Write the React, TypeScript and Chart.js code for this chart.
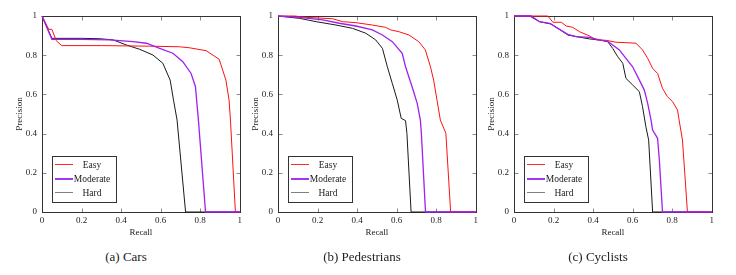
import React, { useEffect, useRef } from 'react';
import { Chart, registerables } from 'chart.js';

Chart.register(...registerables);

const xTickValues = [0, 0.2, 0.4, 0.6, 0.8, 1];
const yTickValues = [0, 0.2, 0.4, 0.6, 0.8, 1];
const seriesNames = ['Easy', 'Moderate', 'Hard'];
const captions = ['(a) Cars', '(b) Pedestrians', '(c) Cyclists'];

// Cars
const carsEasyRecall = [0, 0.034, 0.05, 0.072, 0.1, 0.3, 0.544, 0.695, 0.745, 0.83, 0.896, 0.93, 0.946, 0.953, 0.978, 1];
const carsEasyPrecision = [1, 0.932, 0.932, 0.874, 0.849, 0.849, 0.846, 0.843, 0.838, 0.823, 0.779, 0.673, 0.571, 0.469, 0, 0];
const carsModRecall = [0, 0.05, 0.2, 0.343, 0.46, 0.528, 0.595, 0.662, 0.712, 0.754, 0.776, 0.782, 0.791, 0.827, 1];
const carsModPrecision = [1, 0.881, 0.881, 0.878, 0.869, 0.861, 0.835, 0.81, 0.767, 0.707, 0.639, 0.571, 0.469, 0, 0];
const carsHardRecall = [0, 0.05, 0.2, 0.293, 0.36, 0.427, 0.494, 0.561, 0.611, 0.648, 0.665, 0.683, 0.726, 1];
const carsHardPrecision = [1, 0.886, 0.886, 0.884, 0.878, 0.852, 0.83, 0.801, 0.759, 0.673, 0.571, 0.469, 0, 0];

// Pedestrians
const pedEasyRecall = [0, 0.084, 0.142, 0.276, 0.327, 0.394, 0.477, 0.544, 0.57, 0.611, 0.662, 0.712, 0.745, 0.771, 0.787, 0.804, 0.821, 0.849, 0.873, 1];
const pedEasyPrecision = [1, 1, 0.993, 0.986, 0.971, 0.966, 0.954, 0.942, 0.929, 0.92, 0.903, 0.869, 0.827, 0.741, 0.673, 0.571, 0.469, 0.401, 0, 0];
const pedModRecall = [0, 0.109, 0.226, 0.31, 0.394, 0.477, 0.528, 0.578, 0.628, 0.645, 0.678, 0.704, 0.72, 0.725, 0.746, 1];
const pedModPrecision = [1, 0.993, 0.98, 0.963, 0.949, 0.929, 0.903, 0.869, 0.81, 0.741, 0.639, 0.554, 0.469, 0.401, 0, 0];
const pedHardRecall = [0, 0.109, 0.193, 0.293, 0.377, 0.444, 0.494, 0.528, 0.553, 0.578, 0.603, 0.623, 0.645, 0.652, 0.673, 1];
const pedHardPrecision = [1, 0.988, 0.971, 0.954, 0.937, 0.912, 0.878, 0.835, 0.741, 0.656, 0.571, 0.478, 0.466, 0.4, 0, 0];

// Cyclists
const cycEasyRecall = [0, 0.171, 0.197, 0.239, 0.264, 0.297, 0.331, 0.382, 0.415, 0.466, 0.516, 0.566, 0.617, 0.65, 0.676, 0.701, 0.726, 0.751, 0.776, 0.802, 0.827, 0.835, 0.852, 0.877, 1];
const cycEasyPrecision = [1, 1, 0.968, 0.968, 0.949, 0.942, 0.92, 0.898, 0.878, 0.876, 0.866, 0.864, 0.861, 0.827, 0.784, 0.733, 0.707, 0.631, 0.588, 0.563, 0.52, 0.469, 0.367, 0, 0];
const cycModRecall = [0, 0.087, 0.129, 0.18, 0.23, 0.272, 0.314, 0.382, 0.432, 0.474, 0.499, 0.533, 0.566, 0.6, 0.634, 0.659, 0.676, 0.693, 0.701, 0.726, 0.735, 0.751, 1];
const cycModPrecision = [1, 1, 0.971, 0.963, 0.932, 0.906, 0.895, 0.891, 0.878, 0.871, 0.852, 0.827, 0.784, 0.741, 0.673, 0.622, 0.554, 0.469, 0.418, 0.376, 0.265, 0, 0];
const cycHardRecall = [0, 0.079, 0.129, 0.188, 0.23, 0.272, 0.314, 0.382, 0.432, 0.474, 0.499, 0.524, 0.55, 0.566, 0.6, 0.634, 0.65, 0.667, 0.681, 0.701, 1];
const cycHardPrecision = [1, 1, 0.971, 0.959, 0.932, 0.903, 0.895, 0.883, 0.878, 0.869, 0.835, 0.793, 0.759, 0.682, 0.648, 0.614, 0.537, 0.435, 0.367, 0, 0];

const SERIF = '"Liberation Serif", "Times New Roman", serif';
const lineColors = ['#ff1010', '#a020f0', '#1a1a1a'];
const lineWidths = [1, 1.3, 1];
const legendColors = ['#ff2a2a', '#a335f5', '#808080'];
const legendWidths = [1, 2, 1];
const drawOrder = [1, 0, 2];

const pts = (r: number[], p: number[]) => r.map((x, i) => ({ x, y: p[i] }));

const framePlugin = {
  id: 'frameTicks',
  beforeDatasetsDraw(chart: any) {
    const { ctx, chartArea: a, scales } = chart;
    const L = Math.round(a.left) + 0.5, R = Math.round(a.right) + 0.5;
    const T = Math.round(a.top) + 0.5, B = Math.round(a.bottom) + 0.5;
    ctx.save();
    ctx.strokeStyle = '#8a8a8a';
    ctx.lineWidth = 1;
    ctx.beginPath();
    xTickValues.forEach((v) => {
      if (v === 0 || v === 1) return;
      const x = Math.round(scales.x.getPixelForValue(v)) + 0.5;
      ctx.moveTo(x, B); ctx.lineTo(x, B - 4);
      ctx.moveTo(x, T); ctx.lineTo(x, T + 4);
    });
    yTickValues.forEach((v) => {
      if (v === 0 || v === 1) return;
      const y = Math.round(scales.y.getPixelForValue(v)) + 0.5;
      ctx.moveTo(L, y); ctx.lineTo(L + 4, y);
      ctx.moveTo(R, y); ctx.lineTo(R - 4, y);
    });
    ctx.stroke();
    ctx.strokeStyle = '#333333';
    ctx.strokeRect(L, T, R - L, B - T);
    ctx.restore();
  },
};

const legendPlugin = {
  id: 'innerLegend',
  afterDatasetsDraw(chart: any) {
    const { ctx, chartArea: a } = chart;
    const L = Math.round(a.left);
    const B = Math.round(a.bottom);
    const bx = L + 10, by = B - 56, bw = 64, bh = 46;
    ctx.save();
    ctx.fillStyle = '#ffffff';
    ctx.fillRect(bx, by, bw, bh);
    ctx.strokeStyle = '#333333';
    ctx.lineWidth = 1;
    ctx.strokeRect(bx + 0.5, by + 0.5, bw, bh);
    ctx.font = `9.5px ${SERIF}`;
    ctx.textAlign = 'center';
    ctx.textBaseline = 'middle';
    chart.data.datasets.forEach((ds: any, i: number) => {
      const y = by + 8 + i * 14;
      ctx.fillStyle = legendColors[i];
      ctx.fillRect(bx + 3, y, 18, legendWidths[i]);
      ctx.fillStyle = '#222222';
      ctx.fillText(ds.label, bx + 40, y + 1);
    });
    ctx.restore();
  },
};

const fmt = (v: number) => (v === 0 ? '0' : v === 1 ? '1' : v.toFixed(1));

function Panel({ left, caption, series }: { left: number; caption: string; series: { r: number[]; p: number[] }[] }) {
  const ref = useRef<HTMLCanvasElement | null>(null);
  useEffect(() => {
    if (!ref.current) return;
    const chart = new Chart(ref.current, {
      type: 'line',
      data: {
        datasets: series.map((s, i) => ({
          label: seriesNames[i],
          data: pts(s.r, s.p),
          borderColor: lineColors[i],
          borderWidth: lineWidths[i],
          pointRadius: 0,
          tension: 0,
          fill: false,
          clip: false as any,
          order: drawOrder[i],
        })),
      },
      options: {
        animation: false,
        responsive: false,
        events: [],
        layout: { padding: { top: 16, right: 5, bottom: 0, left: 0 } },
        plugins: { legend: { display: false }, tooltip: { enabled: false } },
        scales: {
          x: {
            type: 'linear',
            min: 0,
            max: 1,
            afterBuildTicks: (axis: any) => { axis.ticks = xTickValues.map((value) => ({ value })); },
            afterFit: (scale: any) => { scale.height = 28; },
            grid: { display: false, drawTicks: false },
            border: { display: false },
            ticks: { padding: 3, color: '#222', font: { family: SERIF, size: 9 }, callback: (v: any) => fmt(Number(v)), maxRotation: 0, autoSkip: false },
            title: { display: true, text: 'Recall', color: '#222', font: { family: SERIF, size: 9 }, padding: { top: 0, bottom: 2 } },
          },
          y: {
            type: 'linear',
            min: 0,
            max: 1,
            afterBuildTicks: (axis: any) => { axis.ticks = yTickValues.map((value) => ({ value })); },
            afterFit: (scale: any) => { scale.width = 42; },
            grid: { display: false, drawTicks: false },
            border: { display: false },
            ticks: { padding: 5, color: '#222', font: { family: SERIF, size: 9 }, callback: (v: any) => fmt(Number(v)), autoSkip: false },
            title: { display: true, text: 'Precision', color: '#222', font: { family: SERIF, size: 9 }, padding: { top: 14, bottom: 0 } },
          },
        },
      } as any,
      plugins: [framePlugin, legendPlugin],
    });
    return () => chart.destroy();
  }, []);
  return (
    <div style={{ position: 'absolute', left, top: 0, width: 250, height: 275 }}>
      <canvas ref={ref} width={245} height={240} style={{ display: 'block', width: 245, height: 240 }} />
      <div style={{ position: 'absolute', left: 0, top: 249, width: 252, textAlign: 'center', fontFamily: SERIF, fontSize: 13, lineHeight: '16px', color: '#222' }}>{caption}</div>
    </div>
  );
}

export default function App() {
  return (
    <div style={{ position: 'fixed', left: 0, top: 0, width: 736, height: 275, background: '#fff', overflow: 'hidden' }}>
      <Panel left={0} caption={captions[0]} series={[{ r: carsEasyRecall, p: carsEasyPrecision }, { r: carsModRecall, p: carsModPrecision }, { r: carsHardRecall, p: carsHardPrecision }]} />
      <Panel left={236} caption={captions[1]} series={[{ r: pedEasyRecall, p: pedEasyPrecision }, { r: pedModRecall, p: pedModPrecision }, { r: pedHardRecall, p: pedHardPrecision }]} />
      <Panel left={472} caption={captions[2]} series={[{ r: cycEasyRecall, p: cycEasyPrecision }, { r: cycModRecall, p: cycModPrecision }, { r: cycHardRecall, p: cycHardPrecision }]} />
    </div>
  );
}
